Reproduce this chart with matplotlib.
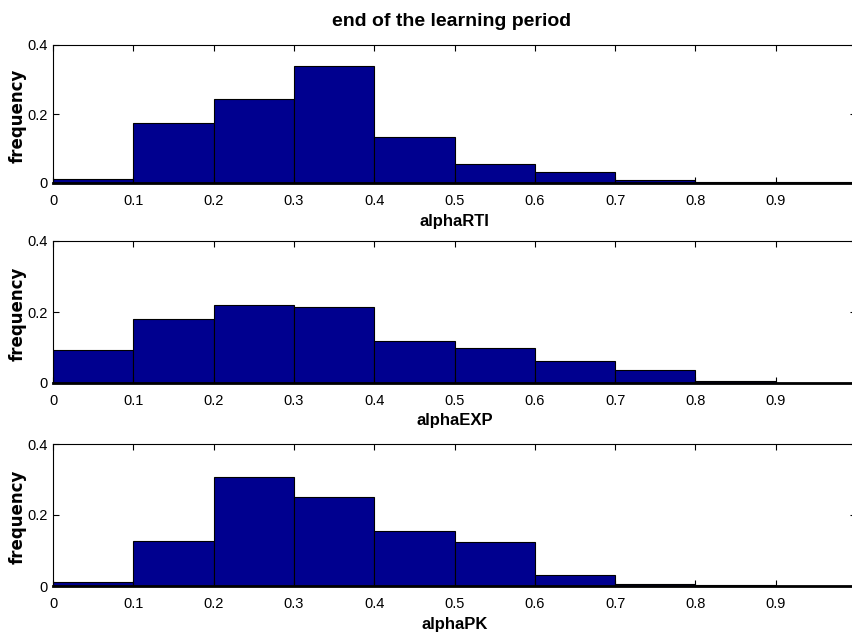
import numpy as np
import matplotlib
matplotlib.use("Agg")
import matplotlib.pyplot as plt

plt.rcParams['font.family'] = ['Liberation Sans', 'DejaVu Sans']

# bin edges and relative frequencies
edges = [0.0, 0.1, 0.2, 0.3, 0.4, 0.5, 0.6, 0.7, 0.8, 0.9, 1.0]
freq_rti = [0.011, 0.173, 0.244, 0.338, 0.134, 0.055, 0.033, 0.010, 0.003, 0.002]
freq_exp = [0.093, 0.180, 0.220, 0.213, 0.119, 0.099, 0.062, 0.037, 0.007, 0.001]
freq_pk = [0.011, 0.127, 0.308, 0.251, 0.155, 0.124, 0.031, 0.006, 0.002, 0.001]
xlabels = ['alphaRTI', 'alphaEXP', 'alphaPK']
title = 'end of the learning period'

series = [freq_rti, freq_exp, freq_pk]
xticks = [0, 0.1, 0.2, 0.3, 0.4, 0.5, 0.6, 0.7, 0.8, 0.9]
xticklabels = ['0', '0.1', '0.2', '0.3', '0.4', '0.5', '0.6', '0.7', '0.8', '0.9']

W, H = 852, 634
fig = plt.figure(figsize=(W / 100, H / 100), dpi=100)

# axes boxes in pixels: (left, top, right, bottom)
boxes = [(53, 45, 856, 183), (53, 241, 856, 383), (53, 444, 856, 586)]
bar_col = '#00008f'

for i in range(3):
    l, t, r, b = boxes[i]
    ax = fig.add_axes([l / W, 1 - b / H, (r - l) / W, (b - t) / H])
    left = np.array(edges[:-1])
    width = np.diff(edges)
    ax.bar(left, series[i], width=width, align='edge', color=bar_col,
           edgecolor='black', linewidth=0.8)
    ax.set_xlim(0, 1.0)
    ax.set_ylim(0, 0.4)
    ax.set_yticks([0, 0.2, 0.4])
    ax.set_yticklabels(['0', '0.2', '0.4'])
    ax.set_xticks(xticks)
    ax.set_xticklabels(xticklabels)
    ax.tick_params(direction='in', top=True, right=True, length=4, width=0.8,
                   labelsize=10.5)
    ax.tick_params(axis='x', pad=8)
    ax.tick_params(axis='y', pad=4)
    for s in ['top', 'left', 'right']:
        ax.spines[s].set_linewidth(0.8)
    ax.spines['bottom'].set_linewidth(2)
    # y label and x label as figure texts
    fig.text(17.5 / W, 1 - ((t + b) / 2 + 2) / H, 'frequency', rotation=90,
             ha='center', va='center', fontsize=12, fontweight='bold',
             family=['DejaVu Sans'])
    fig.text((l + r) / 2 / W, 1 - (b + 38) / H, xlabels[i], ha='center',
             va='center', fontsize=12, fontweight='bold')

fig.text(452 / W, 1 - 21 / H, title, ha='center', va='center',
         fontsize=14, fontweight='bold')

fig.savefig('out.png', dpi=100)
